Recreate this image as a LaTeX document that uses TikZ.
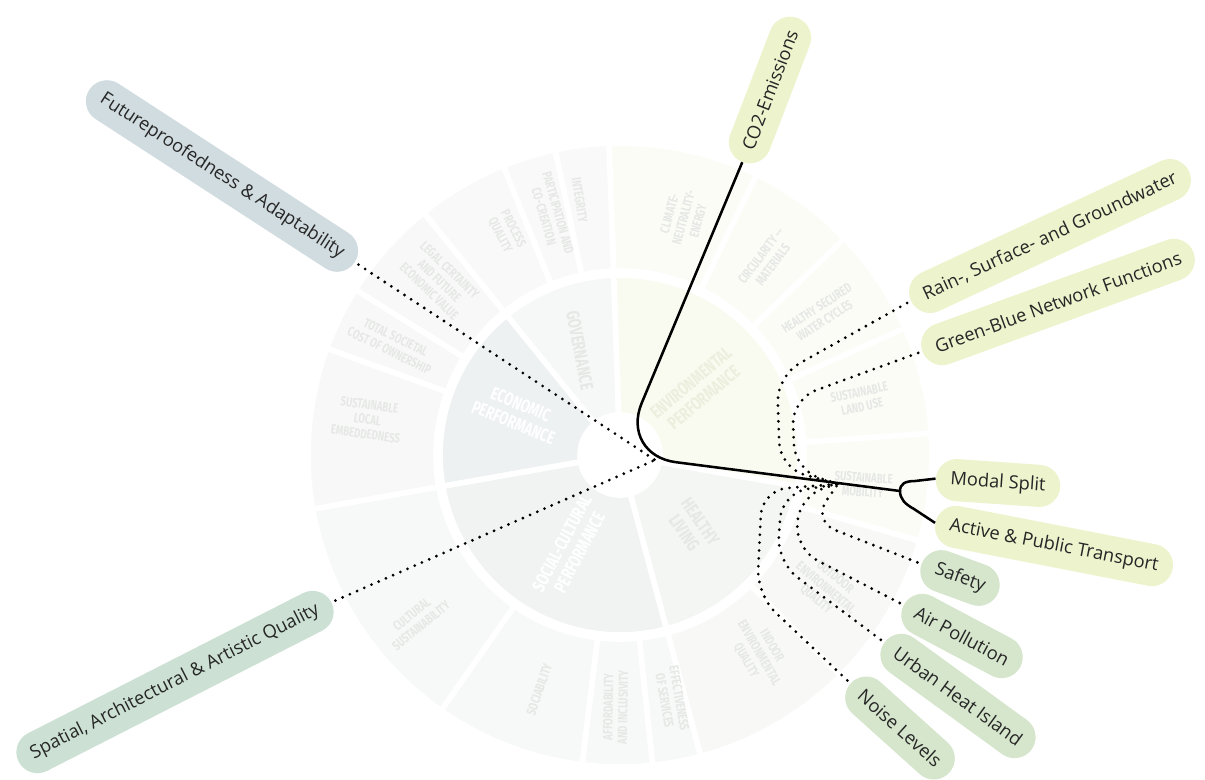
\documentclass[tikz,border=0pt]{standalone}
\usepackage{fontspec}
\setmainfont{Open Sans}
\newfontfamily\wheelfont{Fira Sans}[FakeStretch=0.72]
\usetikzlibrary{shapes.misc}

\definecolor{pillYellow}{RGB}{237,243,205}
\definecolor{pillGrey}{RGB}{209,220,224}
\definecolor{pillSage}{RGB}{204,225,212}
\definecolor{pillGreen}{RGB}{214,230,205}
\definecolor{govIn}{RGB}{246,247,247}
\definecolor{econIn}{RGB}{237,241,242}
\definecolor{socIn}{RGB}{240,243,241}
\definecolor{healthIn}{RGB}{243,246,242}
\definecolor{envIn}{RGB}{250,251,240}
\definecolor{govOut}{RGB}{249,249,249}
\definecolor{econOut}{RGB}{248,248,248}
\definecolor{envOut}{RGB}{252,252,247}
\definecolor{healthOut}{RGB}{248,249,247}
\definecolor{socOut}{RGB}{247,249,248}
\definecolor{wheelText}{RGB}{230,232,230}
\definecolor{envText}{RGB}{236,238,222}

\begin{document}
\begin{tikzpicture}[
    x=0.025cm, y=-0.025cm,
    pill/.style={rounded rectangle, inner xsep=9pt, minimum height=30pt,
      text=black!85, font=\fontsize{13}{15}\selectfont},
    link/.style={line width=1.8pt},
    dots/.style={line width=2.2pt, line cap=round, dash pattern=on 0pt off 5.6pt,
      rounded corners=18pt, shorten <=3pt},
    wlab/.style={text=wheelText, align=center, inner sep=0pt,
      font=\wheelfont\bfseries\fontsize{9.5}{10.5}\selectfont},
    wbig/.style={wlab, font=\wheelfont\bfseries\fontsize{13}{14}\selectfont}
  ]
    \useasboundingbox (0,0) rectangle (1205,779);

    % background wheel
    \begin{scope}[shift={(620,455)}, y=0.025cm]
      \foreach \a/\b/\r/\R/\c in {
          92/129/40/180/govIn, 129/190/40/180/econIn, 190/285/40/180/socIn,
          285/350/40/180/healthIn, -10/92/40/180/envIn,
          92/102/184/312/govOut, 102/112/184/312/govOut, 112/129/184/312/govOut,
          129/148/184/312/econOut, 148/160/184/312/econOut, 160/190/184/312/econOut,
          64/92/184/312/envOut, 44/64/184/312/envOut, 24/44/184/312/envOut,
          4/24/184/312/envOut, -16/4/184/312/envOut,
          -45/-16/184/312/healthOut, -75/-45/184/312/healthOut,
          -84/-75/184/312/socOut, -97/-84/184/312/socOut,
          -125/-97/184/312/socOut, -170/-125/184/312/socOut}
        \filldraw[fill=\c, draw=white, line width=4pt]
          (\a:\r) arc[start angle=\a, end angle=\b, radius=\r]
          -- (\b:\R) arc[start angle=\b, end angle=\a, radius=\R] -- cycle;

      \node[wbig, text=white, rotate=-22] at (158:111) {ECONOMIC\\PERFORMANCE};
      \node[wbig, rotate=-79] at (111:112) {GOVERNANCE};
      \node[wbig, text=envText, rotate=40] at (40:101) {ENVIRONMENTAL\\PERFORMANCE};
      \node[wbig, text=white, rotate=62] at (-118:105) {SOCIAL-CULTURAL\\PERFORMANCE};
      \node[wbig, rotate=-55] at (-45:102) {HEALTHY\\LIVING};

      \node[wlab, rotate=-81] at (99:258) {INTEGRITY};
      \node[wlab, rotate=-74] at (106:250) {PARTICIPATION AND\\CO-CREATION};
      \node[wlab, rotate=-63] at (117:250) {PROCESS\\QUALITY};
      \node[wlab, rotate=-44] at (136:251) {LEGAL CERTAINTY\\AND FUTURE\\ECONOMIC VALUE};
      \node[wlab, rotate=-26] at (154:253) {TOTAL SOCIETAL\\COST OF OWNERSHIP};
      \node[wlab, rotate=-8] at (172:255) {SUSTAINABLE\\LOCAL\\EMBEDDEDNESS};
      \node[wlab, rotate=75] at (75:246) {CLIMATE-\\NEUTRALITY-\\ENERGY};
      \node[wlab, rotate=53] at (53:244) {CIRCULARITY --\\MATERIALS};
      \node[wlab, rotate=33] at (35:245) {HEALTHY SECURED\\WATER CYCLES};
      \node[wlab, rotate=12] at (13:247) {SUSTAINABLE\\LAND USE};
      \node[wlab, rotate=-4] at (-7:245) {SUSTAINABLE\\MOBILITY};
      \node[wlab, rotate=-40] at (-33:245) {OUTDOOR\\ENVIRONMENTAL\\QUALITY};
      \node[wlab, rotate=-60] at (-55:242) {INDOOR\\ENVIRONMENTAL\\QUALITY};
      \node[wlab, rotate=-80] at (-78:250) {EFFECTIVENESS\\OF SERVICES};
      \node[wlab, rotate=89] at (-91:252) {AFFORDABILITY\\AND INCLUSIVITY};
      \node[wlab, rotate=71] at (-109:248) {SOCIABILITY};
      \node[wlab, rotate=39] at (-141:262) {CULTURAL\\SUSTAINABILITY};
    \end{scope}

    \node[pill, fill=pillYellow, rotate=69] (co2) at (770,90) {CO2-Emissions};
    \node[pill, fill=pillGrey, rotate=-33] (future) at (222,176) {Futureproofedness \& Adaptability};
    \node[pill, fill=pillSage, rotate=27] (spatial) at (175,682) {Spatial, Architectural \& Artistic Quality};
    \node[pill, fill=pillYellow, rotate=25] (rain) at (1050,236) {Rain-, Surface- and Groundwater};
    \node[pill, fill=pillYellow, rotate=20] (greenblue) at (1058,302) {Green-Blue Network Functions};
    \node[pill, fill=pillYellow, rotate=-4] (modal) at (998,483) {Modal Split};
    \node[pill, fill=pillYellow, rotate=-11] (active) at (1054,546) {Active \& Public Transport};
    \node[pill, fill=pillGreen, rotate=-20] (safety) at (960,578) {Safety};
    \node[pill, fill=pillGreen, rotate=-28] (air) at (962,636) {Air Pollution};
    \node[pill, fill=pillGreen, rotate=-36] (urban) at (958,696) {Urban Heat Island};
    \node[pill, fill=pillGreen, rotate=-42] (noise) at (900,728) {Noise Levels};

    \coordinate (ctr) at (620,455);
    \coordinate (fork) at (900,491);
    \coordinate (hubL) at (655,460);
    \coordinate (hubR) at (838,484);

    \draw[link, rounded corners=40pt] (co2.west) -- (ctr) -- (fork);
    \draw[link] (fork) .. controls (900,484) and (905,481) .. (915,481) -- (modal.west);
    \draw[link] (fork) .. controls (900,499) and (905,504) .. (914,509) -- (active.west);

    \draw[dots] (future.east) -- (hubL);
    \draw[dots] (spatial.east) -- (hubL);
    \draw[dots] (rain.west) -- (777,376) -- (780,468) -- (hubR);
    \draw[dots] (greenblue.west) -- (792,399) -- (795,470) -- (hubR);
    \draw[dots] (safety.west) -- (812,521) -- (hubR);
    \draw[dots] (air.west) -- (795,549) -- (800,495) -- (hubR);
    \draw[dots] (urban.west) -- (777,562) -- (782,493) -- (hubR);
    \draw[dots] (noise.west) -- (757,595) -- (762,490) -- (hubR);
\end{tikzpicture}
\end{document}
